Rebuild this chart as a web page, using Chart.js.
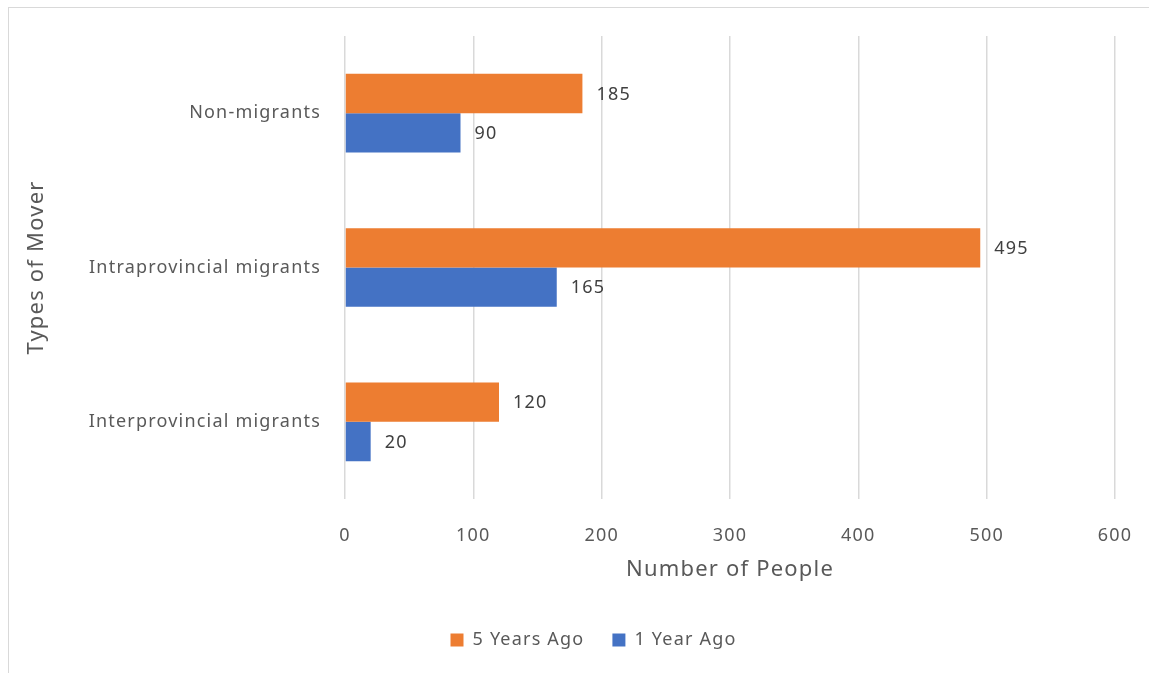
<!DOCTYPE html>
<html>
<head>
<meta charset="utf-8">
<script src="https://cdn.jsdelivr.net/npm/chart.js@4"></script>
<style>
  html, body { margin: 0; padding: 0; background: #fff; }
  #wrap { position: relative; width: 1149px; height: 673px; }
  #frame { position: absolute; left: 8px; top: 7px; right: 0; bottom: 0;
           border-left: 1px solid #d9d9d9; border-top: 1px solid #d9d9d9; pointer-events: none; }
</style>
</head>
<body>
<div id="wrap">
  <canvas id="chart" width="1149" height="673"></canvas>
  <div id="frame"></div>
</div>
<script>
const categories = ["Non-migrants", "Intraprovincial migrants", "Interprovincial migrants"];
const fiveYearsAgo = [185, 495, 120];
const oneYearAgo = [90, 165, 20];
const xTicks = [0, 100, 200, 300, 400, 500, 600];

const FONT = "'Noto Sans', 'Open Sans', sans-serif";
const GREY = "#595959";

// the original text is a bit spaced out, so widen it a little
const spacing = {
    id: "spacing",
    beforeUpdate(chart) { chart.ctx.letterSpacing = "1.2px"; },
    // nudge the legend so it sits where the original one does
    afterLayout(chart) {
        chart.legend.left += 36;
        chart.legend.right += 36;
    }
};

// draw the value next to the end of each bar
const valueLabels = {
    id: "valueLabels",
    afterDatasetsDraw(chart) {
        const ctx = chart.ctx;
        ctx.save();
        ctx.font = "18px " + FONT;
        ctx.fillStyle = "#404040";
        ctx.textAlign = "left";
        ctx.textBaseline = "middle";
        chart.data.datasets.forEach((ds, i) => {
            chart.getDatasetMeta(i).data.forEach((bar, j) => {
                ctx.fillText(ds.data[j], bar.x + 14, bar.y + 1);
            });
        });
        ctx.restore();
    }
};

new Chart(document.getElementById("chart").getContext("2d"), {
    type: "bar",
    data: {
        labels: categories,
        datasets: [
            {
                label: "5 Years Ago",
                data: fiveYearsAgo,
                backgroundColor: "#ED7D31",
                categoryPercentage: 0.51,
                barPercentage: 1.0
            },
            {
                label: "1 Year Ago",
                data: oneYearAgo,
                backgroundColor: "#4472C4",
                categoryPercentage: 0.51,
                barPercentage: 1.0
            }
        ]
    },
    options: {
        indexAxis: "y",
        responsive: false,
        animation: false,
        layout: { padding: { top: 36, right: 34, bottom: 14, left: 0 } },
        scales: {
            x: {
                min: 0,
                max: 600,
                afterBuildTicks: (scale) => { scale.ticks = xTicks.map(v => ({ value: v })); },
                grid: { color: "#d9d9d9", lineWidth: 1.5, drawTicks: false },
                border: { display: false },
                ticks: { color: GREY, font: { family: FONT, size: 18 }, padding: 26 },
                title: { display: true, text: "Number of People", color: GREY,
                         font: { family: FONT, size: 22 }, padding: { top: 8, bottom: 20 } },
                afterFit: (scale) => {
                    scale.height = 104;
                    scale.paddingLeft = 0;
                    scale.paddingRight = 0;
                }
            },
            y: {
                grid: { display: false, drawTicks: false },
                border: { display: false },
                ticks: { color: GREY, font: { family: FONT, size: 18 }, padding: 24 },
                title: { display: true, text: "Types of Mover", color: GREY,
                         font: { family: FONT, size: 22 }, padding: { top: 24, bottom: 0 } },
                afterFit: (scale) => { scale.width = 345; }
            }
        },
        plugins: {
            legend: {
                position: "bottom",
                labels: { color: GREY, font: { family: FONT, size: 18 },
                          boxWidth: 13, boxHeight: 13, padding: 28 }
            },
            tooltip: { enabled: false }
        }
    },
    plugins: [spacing, valueLabels]
});
</script>
</body>
</html>
